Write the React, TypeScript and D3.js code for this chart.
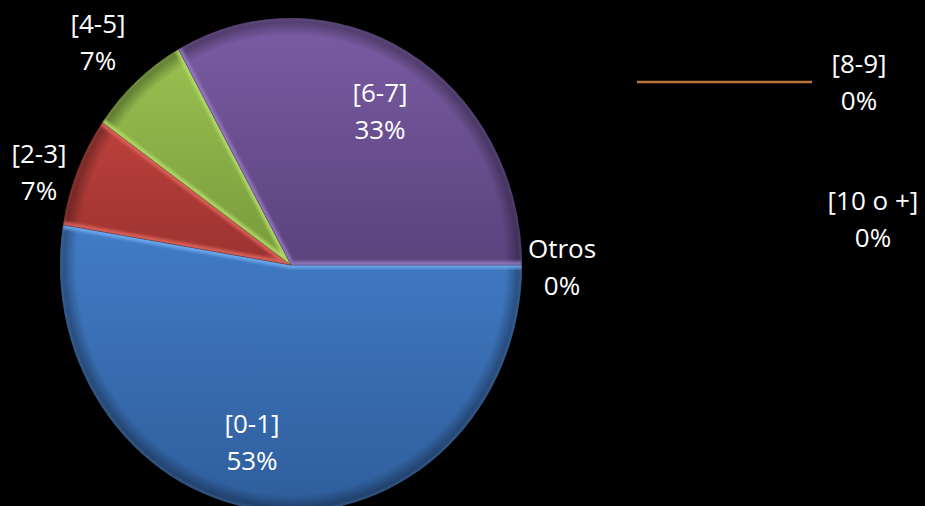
import React from "react";
import * as d3 from "d3";

const categories = ["[0-1]", "[2-3]", "[4-5]", "[6-7]", "[8-9]", "[10 o +]", "Otros"];
const values = [52.6, 7.2, 7.1, 33.1, 0, 0, 0];
const percentLabels = ["53%", "7%", "7%", "33%", "0%", "0%", "0%"];

const W = 925;
const H = 506;
const cx = 291;
const cy = 265;
const R = 231;
const yScale = 247 / 231;

const palette = [
  { top: "#417cc6", bottom: "#2f5d9b", light: "#74aef0" },
  { top: "#bd413d", bottom: "#9a322f", light: "#e0675f" },
  { top: "#98c150", bottom: "#789a3c", light: "#b6df6a" },
  { top: "#7a5ca3", bottom: "#5a437d", light: "#9b7cc6" },
  { top: "#f79646", bottom: "#b8763c", light: "#ffb070" },
  { top: "#4bacc6", bottom: "#357f93", light: "#7fd0e6" },
  { top: "#f79646", bottom: "#b8763c", light: "#ffb070" },
];

// label anchor layout: [centerX, firstLineCenterY]
const labelLayout: [number, number][] = [
  [252, 423],
  [39, 153],
  [98, 23],
  [380, 92],
  [859, 63],
  [873, 200],
  [562, 248],
];
const lineGap = 37;

export default function App() {
  const pie = d3
    .pie<number>()
    .sort(null)
    .startAngle(Math.PI / 2)
    .endAngle(Math.PI / 2 + 2 * Math.PI)
    .value((d) => d);
  const arcs = pie(values);
  const arc = d3.arc<d3.PieArcDatum<number>>().innerRadius(0).outerRadius(R);
  const edgePath = (a: d3.PieArcDatum<number>) => {
    const p = (ang: number) => [R * Math.sin(ang), -R * Math.cos(ang)];
    const s = p(a.startAngle);
    const e = p(a.endAngle);
    return `M${s[0]},${s[1]}L0,0L${e[0]},${e[1]}`;
  };

  return (
    <div style={{ position: "fixed", left: 0, top: 0, width: W, height: H, background: "#000" }}>
      <svg width={W} height={H} viewBox={`0 0 ${W} ${H}`} style={{ display: "block" }}>
        <defs>
          {palette.map((p, i) => (
            <linearGradient key={i} id={`g${i}`} x1="0" y1="0" x2="0" y2="1" gradientUnits="objectBoundingBox">
              <stop offset="0%" stopColor={p.top} />
              <stop offset="100%" stopColor={p.bottom} />
            </linearGradient>
          ))}
          <radialGradient id="rim" cx="0" cy="0" r={R} gradientUnits="userSpaceOnUse">
            <stop offset="93%" stopColor="#000" stopOpacity="0" />
            <stop offset="100%" stopColor="#000" stopOpacity="0.4" />
          </radialGradient>
          <filter id="blur" x="-10%" y="-10%" width="120%" height="120%">
            <feGaussianBlur stdDeviation="1.5" />
          </filter>
          {arcs.map((a, i) => (
            <clipPath key={i} id={`c${i}`}>
              <path d={arc(a) || ""} />
            </clipPath>
          ))}
        </defs>
        <rect x={0} y={0} width={W} height={H} fill="#000" />
        <g transform={`translate(${cx},${cy}) scale(1,${yScale})`}>
          {arcs.map((a, i) =>
            a.value > 0 ? (
              <g key={i}>
                <path d={arc(a) || ""} fill={`url(#g${i})`} />
                <g clipPath={`url(#c${i})`}>
                  <path d={arc(a) || ""} fill="url(#rim)" />
                  <path
                    d={edgePath(a)}
                    fill="none"
                    stroke={palette[i].light}
                    strokeWidth={7}
                    filter="url(#blur)"
                    opacity={0.8}
                  />
                  <path
                    d={arc(a) || ""}
                    fill="none"
                    stroke={palette[i].light}
                    strokeWidth={3}
                    filter="url(#blur)"
                    opacity={0.35}
                  />
                </g>
                <path d={arc(a) || ""} fill="none" stroke="#000" strokeOpacity={0.25} strokeWidth={0.8} />
              </g>
            ) : null
          )}
        </g>
        {/* leader line for [8-9] */}
        <line x1={637} y1={82} x2={812} y2={82} stroke={palette[4].bottom} strokeWidth={2.5} />
        {categories.map((c, i) => {
          const [x, y] = labelLayout[i];
          return (
            <text
              key={c}
              x={x}
              textAnchor="middle"
              fill="#fff"
              style={{ fontFamily: "'Open Sans', sans-serif", fontSize: 26 }}
            >
              <tspan x={x} y={y + 9.5}>
                {c}
              </tspan>
              <tspan x={x} y={y + lineGap + 9.5}>
                {percentLabels[i]}
              </tspan>
            </text>
          );
        })}
      </svg>
    </div>
  );
}
